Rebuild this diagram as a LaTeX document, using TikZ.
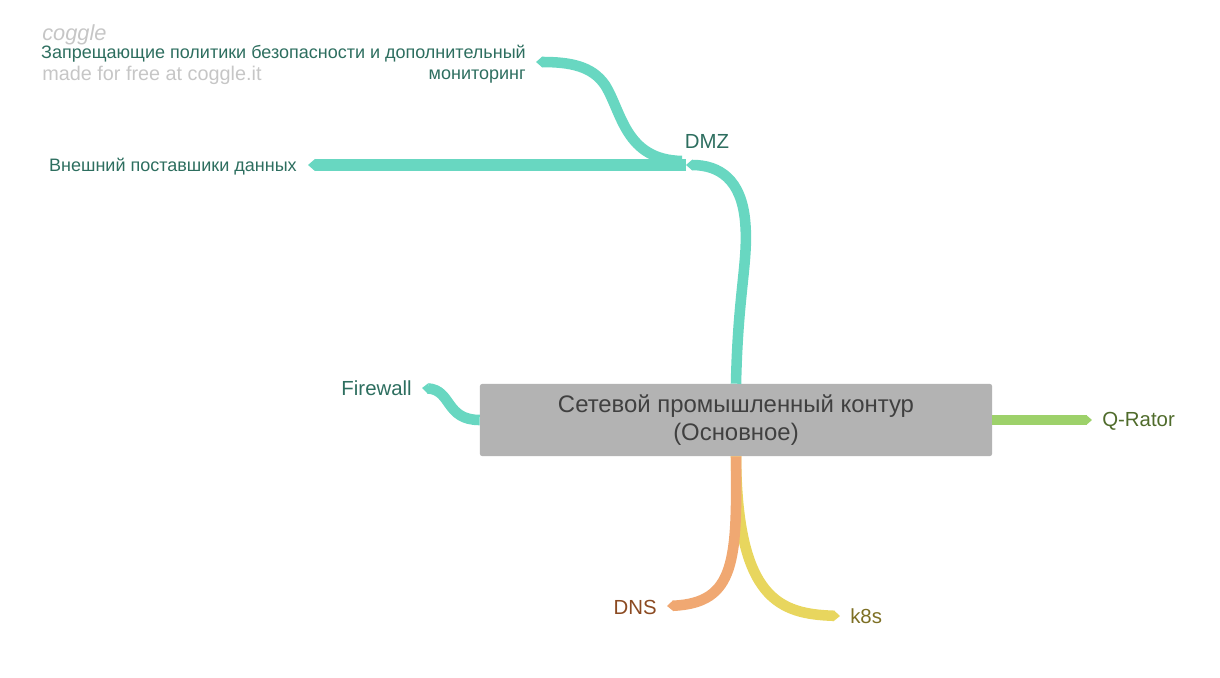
\documentclass[tikz,border=0pt]{standalone}
\usepackage{fontspec}
\setmainfont{Liberation Sans}
\usetikzlibrary{positioning}
\usetikzlibrary{arrows.meta}

\definecolor{tealline}{HTML}{68D7C1}
\definecolor{tealtext}{HTML}{2D6E5F}
\definecolor{greenline}{HTML}{9DD16A}
\definecolor{greentext}{HTML}{4F6B2B}
\definecolor{orangeline}{HTML}{F0A872}
\definecolor{orangetext}{HTML}{8B4A22}
\definecolor{yellowline}{HTML}{E8D65E}
\definecolor{yellowtext}{HTML}{7D6F24}
\definecolor{corefill}{HTML}{B3B3B3}
\definecolor{coretext}{HTML}{404040}
\definecolor{markgray}{HTML}{C6C6C6}

\tikzset{
  branch/.style={line width=7.5pt, -{Triangle[length=0pt 0.6,width=0pt 1]}},
  lbl/.style={inner sep=0pt, font=\fontsize{14.5}{17}\selectfont},
  smalllbl/.style={inner sep=0pt, font=\fontsize{12.8}{15}\selectfont},
}

\begin{document}
\begin{tikzpicture}[x=0.025cm, y=-0.025cm]
    \useasboundingbox (0,0) rectangle (1220,677);
    % watermark
    \node[inner sep=0pt, anchor=base west, text=markgray,
      font=\fontsize{15.5}{16}\selectfont\itshape] (logo) at (42,40) {coggle};
    \node[inner sep=0pt, anchor=base west, text=markgray,
      font=\fontsize{14.1}{16}\selectfont] (made) at (42,80) {made for free at coggle.it};
    % centre
    \node[fill=corefill, rounded corners=1.5pt, minimum width=12.8cm,
      minimum height=1.8cm, align=center, text=coretext,
      font=\fontsize{17}{19.8}\selectfont] (core) at (736,420)
      {Сетевой промышленный контур\\(Основное)};
    % tips
    \coordinate (dmz) at (686,165);
    \coordinate (ext) at (308,165);
    \coordinate (ban) at (536,62);
    \coordinate (fw) at (422,388);
    \coordinate (qr) at (1092,420);
    \coordinate (dns) at (667,606);
    \coordinate (k8s) at (840,616);
    % branches
    \draw[branch, tealline] (core.north) .. controls (738,290) and (749,260) .. (745,220)
      .. controls (741,180) and (720,165) .. (dmz);
    \draw[branch, tealline, line width=8.5pt] (dmz) -- (ext);
    \draw[branch, tealline] (dmz) ++(-4,-4) .. controls (625,160) and (622,112) .. (605,85)
      .. controls (592,66) and (570,62) .. (ban);
    \draw[branch, tealline] (core.west) .. controls (445,420) and (452,390) .. (fw);
    \draw[branch, greenline, line width=6.5pt] (core.east) -- (qr);
    \draw[branch, yellowline] (core.south) .. controls (737,600) and (780,614) .. (k8s);
    \draw[branch, orangeline] (core.south) .. controls (737,560) and (736,603) .. (dns);
    % labels
    \node[lbl, anchor=base, text=tealtext] (dmzlbl) at (707,148) {DMZ};
    \node[smalllbl, anchor=base east, text=tealtext] (extlbl) at (297,171)
      {Внешний поставшики данных};
    \node[smalllbl, anchor=east, align=right, text=tealtext] (banlbl) at (526,64)
      {Запрещающие политики безопасности и дополнительный\\мониторинг};
    \node[lbl, anchor=base east, text=tealtext] (fwlbl) at (412,395) {Firewall};
    \node[lbl, anchor=base west, text=greentext] (qrlbl) at (1102,426) {Q-Rator};
    \node[lbl, anchor=base east, text=orangetext] (dnslbl) at (657,614) {DNS};
    \node[lbl, anchor=base west, text=yellowtext] (k8slbl) at (850,623) {k8s};
\end{tikzpicture}
\end{document}
